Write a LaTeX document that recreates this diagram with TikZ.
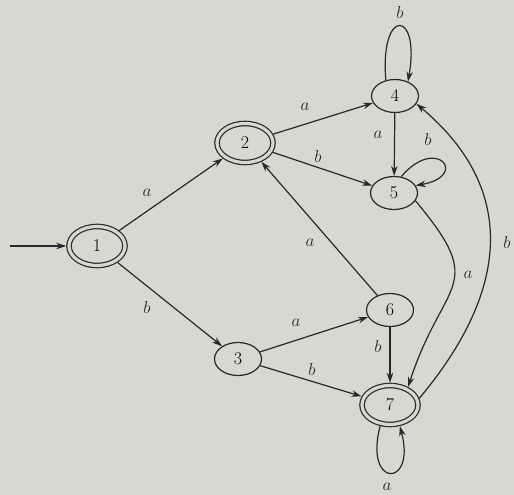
\documentclass[tikz,border=0pt]{standalone}
\usetikzlibrary{shapes.geometric, arrows.meta}
\definecolor{paper}{RGB}{216,215,208}
\definecolor{ink}{RGB}{40,40,40}

\begin{document}
\begin{tikzpicture}[x=1bp, y=1bp,
    font=\fontsize{18}{20}\selectfont,
    state/.style={ellipse, draw=ink, line width=1.2bp, inner sep=0pt,
                  minimum width=47bp, minimum height=33bp},
    accept/.style={state, double=paper, double distance=3.2bp,
                   outer sep=2.8bp, minimum width=56bp, minimum height=39bp},
    trans/.style={ink, line width=1.2bp, -{Stealth[length=10bp, width=6.5bp]}},
    lab/.style={text=ink, inner sep=1pt}
]

% ============ PAPER ============
\fill[paper] (0,0) rectangle (514,495);
\useasboundingbox (0,0) rectangle (514,495);

% ============ STATES ============
\node[accept] (S1) at (97, 249)  {1};
\node[accept] (S2) at (245, 352) {2};
\node[state]  (S3) at (238, 136) {3};
\node[state]  (S4) at (395, 399) {4};
\node[state]  (S5) at (394, 302) {5};
\node[state]  (S6) at (390, 185) {6};
\node[accept] (S7) at (390, 90)  {7};
\coordinate (start) at (10, 249);

% ============ TRANSITIONS ============
\draw[trans] (start) -- (S1);
\draw[trans] (S1) -- (S2);
\draw[trans] (S1) -- (S3);
\draw[trans] (S2) -- (S4);
\draw[trans] (S2) -- (S5);
\draw[trans] (S4) -- (S5);
\draw[trans] (S6) -- (S2);
\draw[trans] (S3) -- (S6);
\draw[trans] (S3) -- (S7);
\draw[trans] (S6) -- (S7);

% Curved ones
\draw[trans] (S5.-20) to[out=-50, in=72, looseness=1.57] (S7.45);
\draw[trans] (S7.13) to[out=50, in=-40, looseness=1.18] (S4.-20);

% Loops
\draw[trans] (S4.120) to[out=95, in=80, looseness=8.5] (S4.48);
\draw[trans] (S5.66) to[out=50, in=10, looseness=8.3] (S5.19);
\draw[trans] (S7.-115) to[out=-105, in=-75, looseness=8.4] (S7.-65);

% ============ LABELS ============
\node[lab] (lab12) at (147, 302) {$a$};
\node[lab] (lab13) at (147, 187) {$b$};
\node[lab] (lab24) at (305, 388) {$a$};
\node[lab] (lab25) at (318, 338) {$b$};
\node[lab] (lab45) at (378, 360) {$a$};
\node[lab] (lab44) at (400, 482) {$b$};
\node[lab] (lab55) at (428, 355) {$b$};
\node[lab] (lab57) at (468, 220) {$a$};
\node[lab] (lab62) at (310, 252) {$a$};
\node[lab] (lab36) at (296, 172) {$a$};
\node[lab] (lab37) at (312, 125) {$b$};
\node[lab] (lab67) at (378, 148) {$b$};
\node[lab] (lab74) at (507, 252) {$b$};
\node[lab] (lab77) at (387, 8)   {$a$};

\end{tikzpicture}
\end{document}
